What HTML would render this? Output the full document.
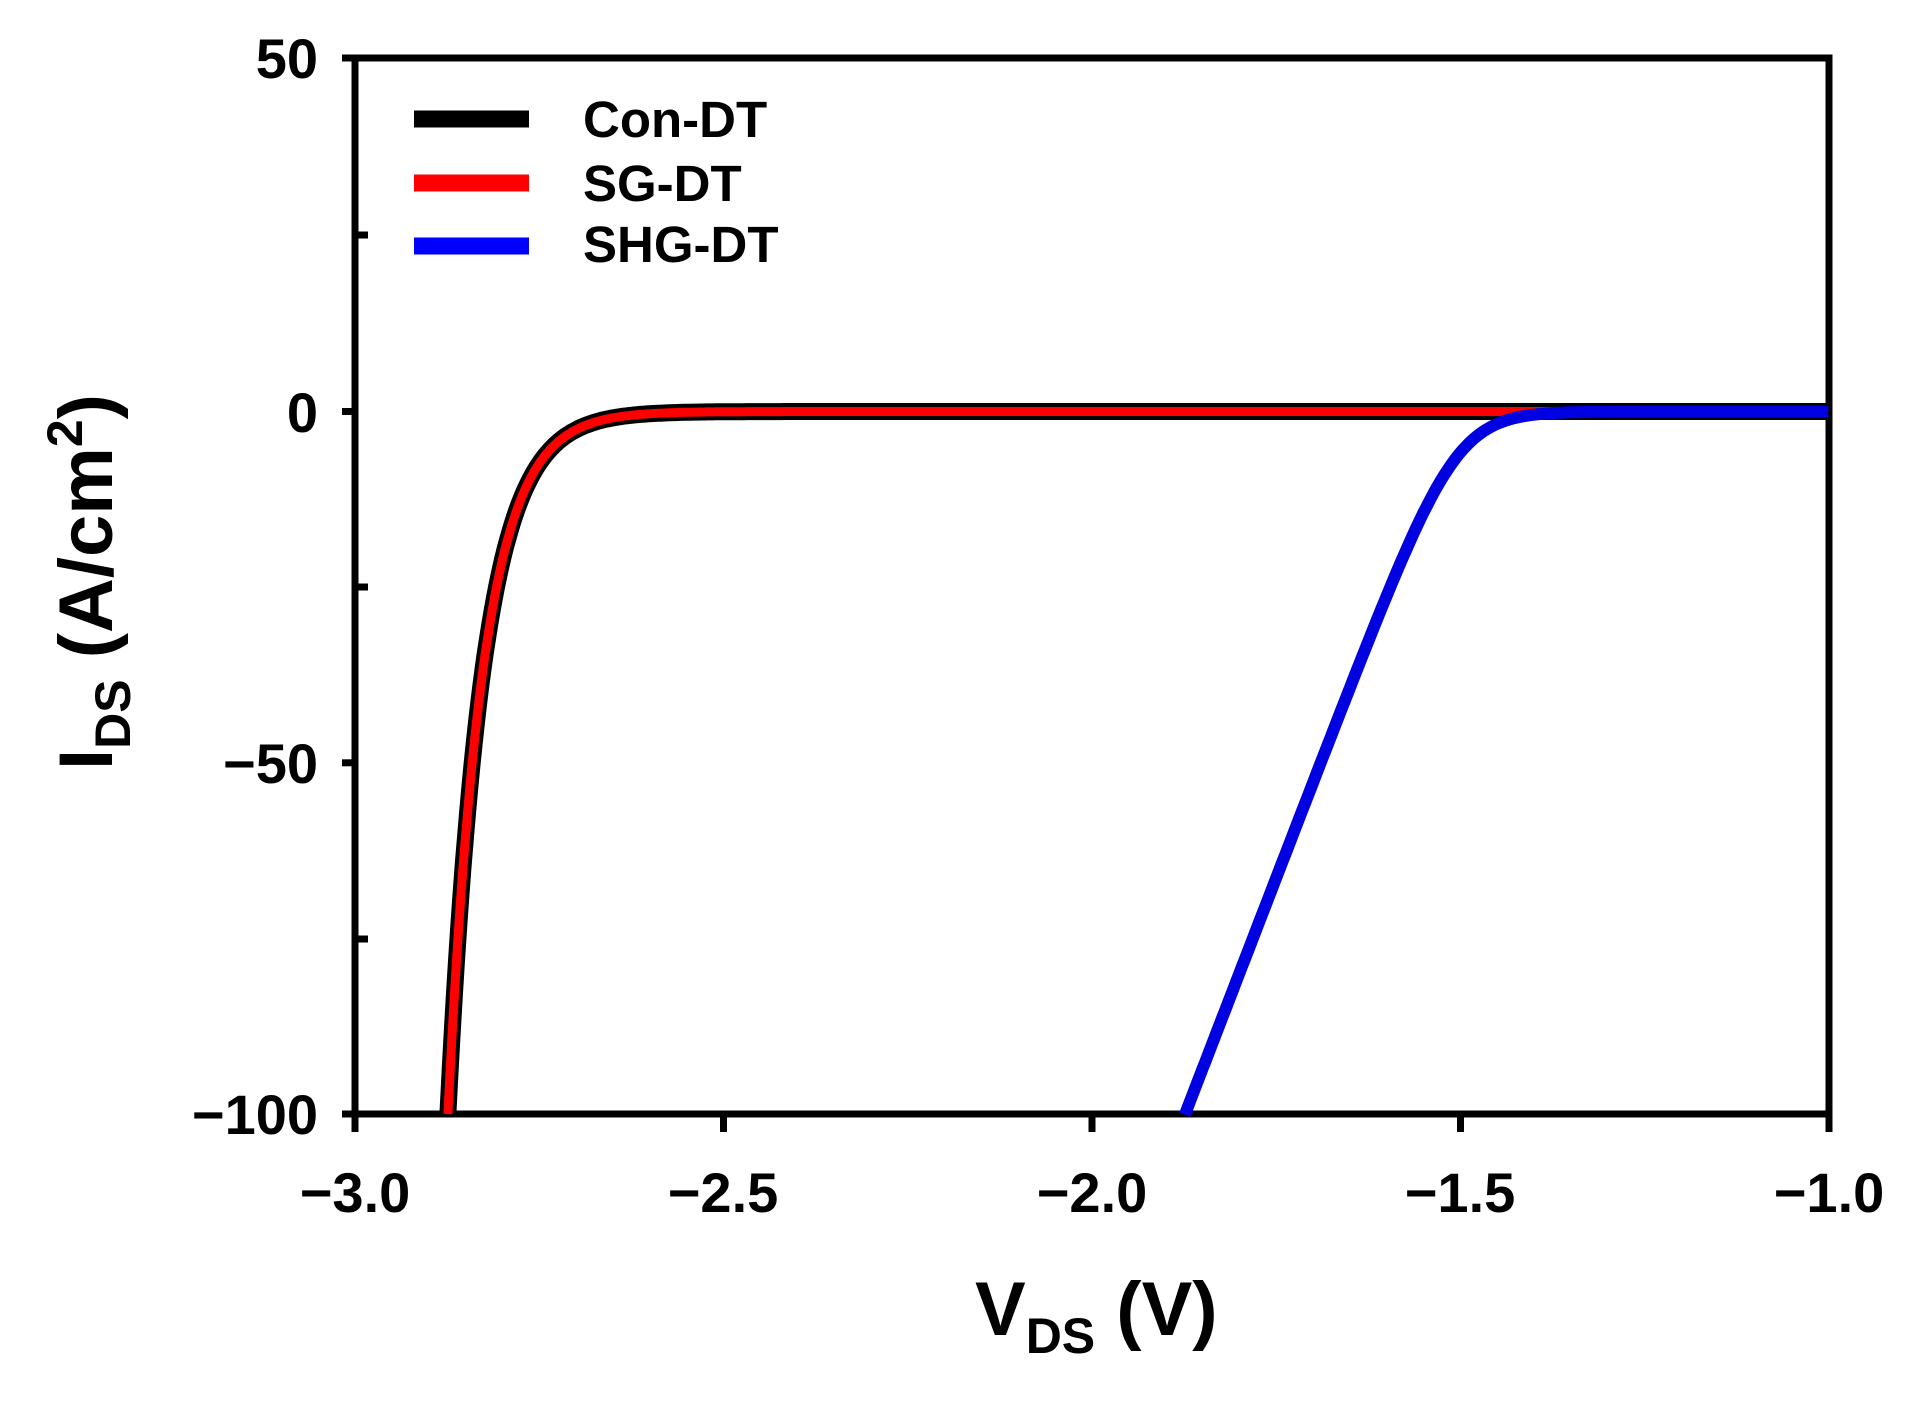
<!DOCTYPE html>
<html><head><meta charset="utf-8"><style>
html,body{margin:0;padding:0;background:#fff;}
svg{display:block;}
text{font-family:"Liberation Sans",Arial,sans-serif;font-weight:bold;fill:#000;}
</style></head><body>
<svg id="s" width="1919" height="1402" viewBox="0 0 1919 1402" xmlns="http://www.w3.org/2000/svg">
<g stroke="#000" stroke-width="7" fill="none">
<rect x="355" y="58" width="1474" height="1056"/>
<line x1="342" y1="58" x2="355" y2="58"/>
<line x1="342" y1="411.5" x2="355" y2="411.5"/>
<line x1="342" y1="762.8" x2="355" y2="762.8"/>
<line x1="342" y1="1114" x2="355" y2="1114"/>
<line x1="355" y1="235" x2="368" y2="235"/>
<line x1="355" y1="587" x2="368" y2="587"/>
<line x1="355" y1="939" x2="368" y2="939"/>
<line x1="355" y1="1114" x2="355" y2="1132"/>
<line x1="723.5" y1="1114" x2="723.5" y2="1132"/>
<line x1="1092" y1="1114" x2="1092" y2="1132"/>
<line x1="1460.5" y1="1114" x2="1460.5" y2="1132"/>
<line x1="1829" y1="1114" x2="1829" y2="1132"/>
</g>
<g font-size="56" text-anchor="end">
<text x="318" y="78">50</text>
<text x="318" y="432">0</text>
<text x="318" y="783">−50</text>
<text x="318" y="1134">−100</text>
</g>
<g font-size="56" text-anchor="middle">
<text x="355" y="1212">−3.0</text>
<text x="723" y="1212">−2.5</text>
<text x="1092" y="1212">−2.0</text>
<text x="1460" y="1212">−1.5</text>
<text x="1829" y="1212">−1.0</text>
</g>
<text x="975" y="1335" font-size="76" text-anchor="start">V<tspan font-size="50" dy="18">DS</tspan><tspan dy="-18"> (V)</tspan></text>
<text transform="translate(112,582) rotate(-90)" font-size="76" text-anchor="middle">I<tspan font-size="50" dy="18">DS</tspan><tspan dy="-18"> (A/cm</tspan><tspan font-size="50" dy="-30">2</tspan><tspan dy="30">)</tspan></text>
<g stroke-width="17">
<line x1="414" y1="119" x2="529" y2="119" stroke="#000"/>
<line x1="414" y1="183" x2="529" y2="183" stroke="#f00"/>
<line x1="414" y1="246" x2="529" y2="246" stroke="#00f"/>
</g>
<g font-size="51">
<text x="583" y="137">Con-DT</text>
<text x="583" y="201">SG-DT</text>
<text x="583" y="262">SHG-DT</text>
</g>
<path id="pk" stroke="#000" stroke-width="17" fill="none" stroke-linejoin="round"/>
<path id="pr" stroke="#f00" stroke-width="9" fill="none" stroke-linejoin="round"/>
<path id="pb" stroke="#0000e0" stroke-width="12" fill="none" stroke-linejoin="round"/>
</svg>
<script>
function X(v){return 355+(v+3)*737;}
function Y(i){return 411.5-i*7.025;}
var d="";
for(var v=-2.874;v<=-1.0;v+=0.003){var I=-100*Math.exp(-21*(v+2.874));d+=(d?"L":"M")+X(v).toFixed(1)+","+Y(I).toFixed(1);}
document.getElementById("pk").setAttribute("d",d);
document.getElementById("pr").setAttribute("d",d);
var w=0.035,s=272,v0=-1.506,b="";
for(var v=-1.874;v<=-1.0;v+=0.003){var I=-s*w*Math.log(1+Math.exp((v0-v)/w));b+=(b?"L":"M")+X(v).toFixed(1)+","+Y(I).toFixed(1);}
document.getElementById("pb").setAttribute("d",b);
</script>
</body></html>
